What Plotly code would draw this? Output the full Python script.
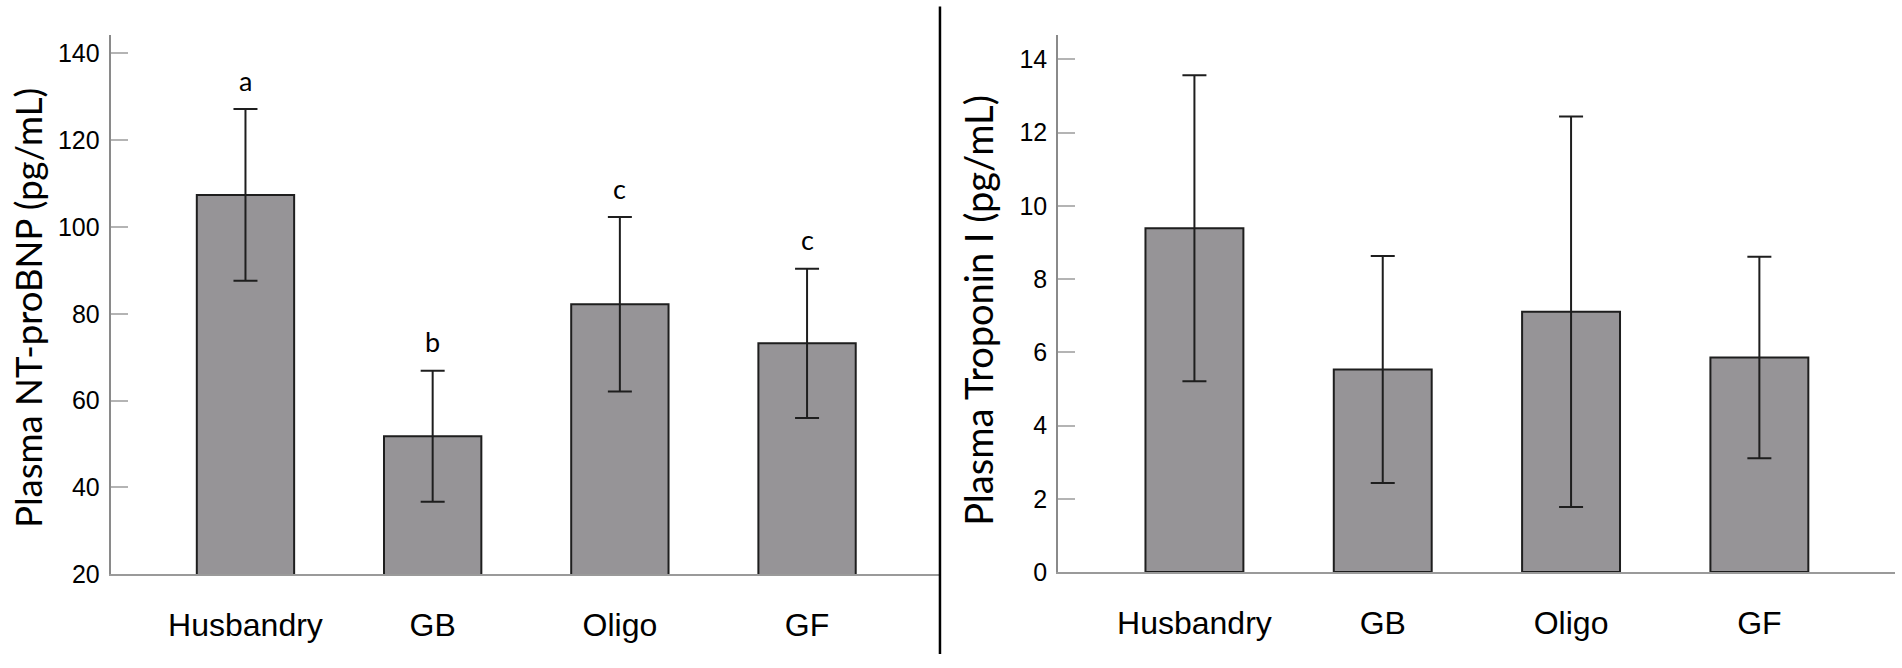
"""
Plasma NT-proBNP and Troponin I by group, two bar panels with SEM bars.
"""
import plotly.graph_objects as go
from plotly.subplots import make_subplots

GROUPS = ['Husbandry', 'GB', 'Oligo', 'GF']

BNP_MEAN = [107.4, 51.8, 82.2, 73.2]
BNP_ERR = [19.8, 15.1, 20.1, 17.2]
BNP_LETTERS = ['a', 'b', 'c', 'c']
BNP_TICKS = [20, 40, 60, 80, 100, 120, 140]
BNP_TITLE = 'Plasma NT-proBNP (pg/mL)'

TNI_MEAN = [9.39, 5.53, 7.11, 5.86]
TNI_ERR = [4.18, 3.10, 5.33, 2.75]
TNI_TICKS = [0, 2, 4, 6, 8, 10, 12, 14]
TNI_TITLE = 'Plasma Troponin I (pg/mL)'

BAR_FILL = '#969497'
INK = '#1e1e1e'
NUM_FONT = 'Liberation Sans, Arial, sans-serif'
TITLE_FONT = 'Lato, Open Sans, sans-serif'


def add_panel(fig, col, means, errs):
    """Bars with symmetric error bars."""

    fig.add_trace(go.Bar(
        x=GROUPS,
        y=means,
        width=0.52,
        marker={'color': BAR_FILL, 'line': {'color': INK, 'width': 2}},
        error_y={'type': 'data', 'array': errs, 'color': INK, 'thickness': 2, 'width': 12},
        showlegend=False
    ), row=1, col=col)


def add_ytitle(fig, text, x, y, size):
    """Rotated axis title placed on the page."""

    fig.add_annotation(
        x=x, y=y, xref='paper', yref='paper', text=text, showarrow=False,
        textangle=-90, xanchor='center', yanchor='middle',
        font={'family': TITLE_FONT, 'size': size, 'color': 'black'}
    )


def main():
    """Main."""

    fig = make_subplots(rows=1, cols=2)
    add_panel(fig, 1, BNP_MEAN, BNP_ERR)
    add_panel(fig, 2, TNI_MEAN, TNI_ERR)

    # significance letters sit just above each error cap
    for g, m, e, t in zip(GROUPS, BNP_MEAN, BNP_ERR, BNP_LETTERS):
        fig.add_annotation(
            x=g, y=m + e, xref='x', yref='y', text=t, showarrow=False,
            yshift=29, font={'family': TITLE_FONT, 'size': 27, 'color': 'black'}
        )

    add_ytitle(fig, BNP_TITLE, 0.0146, 0.529, 36.5)
    add_ytitle(fig, TNI_TITLE, 0.5142, 0.5247, 38)

    xcommon = dict(
        type='category', showline=True, linecolor='#9a9a9a', linewidth=1.5,
        ticks='', showgrid=False, zeroline=False, ticklabelstandoff=22,
        tickfont={'family': NUM_FONT, 'size': 32, 'color': 'black'}
    )
    ycommon = dict(
        showline=True, linecolor='#8a8a8a', linewidth=2, ticks='inside', ticklen=17,
        tickcolor='#b4b4b4', tickwidth=2, showgrid=False, zeroline=False,
        ticklabelstandoff=4,
        tickfont={'family': NUM_FONT, 'size': 25, 'color': 'black'}
    )

    fig.update_layout(
        width=1902,
        height=668,
        margin={'l': 0, 'r': 0, 't': 0, 'b': 0},
        paper_bgcolor='white',
        plot_bgcolor='white',
        xaxis={**xcommon, 'domain': [0.0582, 0.4942], 'range': [-0.72, 3.71]},
        xaxis2={**xcommon, 'domain': [0.5564, 0.9963], 'range': [-0.723, 3.72]},
        yaxis={**ycommon, 'domain': [0.1220, 0.9461], 'range': [20, 144.2], 'tickvals': BNP_TICKS},
        yaxis2={**ycommon, 'domain': [0.1253, 0.9461], 'range': [0, 14.66], 'tickvals': TNI_TICKS},
        shapes=[{
            'type': 'line', 'xref': 'paper', 'yref': 'paper',
            'x0': 0.4942, 'x1': 0.4942, 'y0': 0, 'y1': 0.99,
            'line': {'color': 'black', 'width': 2.5}
        }]
    )

    fig.write_html(
        "out.html",
        config={'displayModeBar': False},
        post_script="document.body.style.margin='0';"
    )


if __name__ == "__main__":
    main()
